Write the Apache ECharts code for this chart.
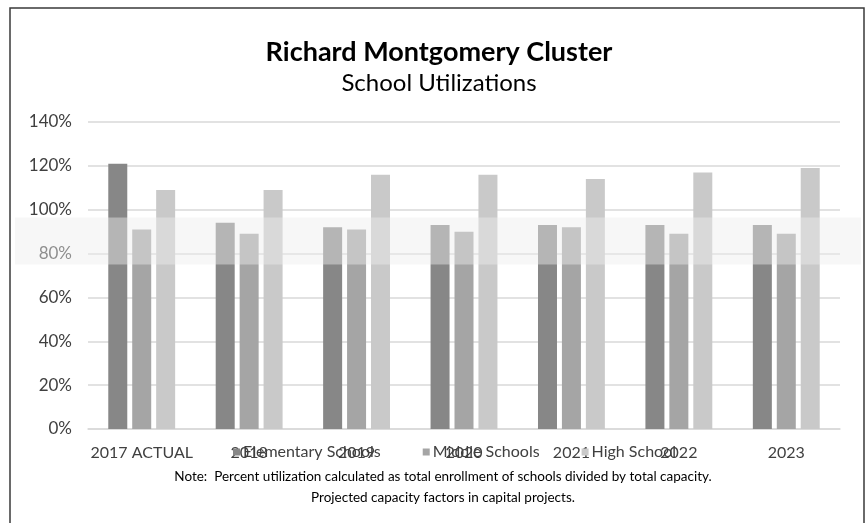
<!DOCTYPE html>
<html>
<head>
<meta charset="utf-8">
<script src="https://cdn.jsdelivr.net/npm/echarts@6/dist/echarts.min.js"></script>
<style>
  html, body { margin: 0; padding: 0; background: #fff; }
  #chart { width: 867px; height: 523px; }
</style>
</head>
<body>
<div id="chart"></div>
<script>
const years = ['2017 ACTUAL', '2018', '2019', '2020', '2021', '2022', '2023']
const elementary = [121, 94, 92, 93, 93, 93, 93]
const middle = [91, 89, 91, 90, 92, 89, 89]
const high = [109, 109, 116, 116, 114, 117, 119]
const yTicks = [0, 140, 20]
const band = [75, 96.5]

const FONT = 'Lato, "Open Sans", sans-serif'
const chart = echarts.init(document.getElementById('chart'))

const barSeries = (name, data, color) => ({
  name,
  type: 'bar',
  data,
  barWidth: 19,
  barGap: '26%',
  itemStyle: { color }
})

const option = {
  animation: false,
  textStyle: { fontFamily: FONT },
  title: {
    text: 'Richard Montgomery Cluster',
    subtext: 'School Utilizations',
    left: 434,
    textAlign: 'center',
    top: 34,
    itemGap: 5,
    textStyle: { fontFamily: FONT, fontSize: 27, fontWeight: 'bold', color: '#000' },
    subtextStyle: { fontFamily: FONT, fontSize: 24, color: '#000' }
  },
  legend: {
    left: 228,
    top: 439,
    icon: 'rect',
    itemWidth: 7,
    itemHeight: 7,
    itemGap: 42,
    textStyle: { fontFamily: FONT, fontSize: 16, color: '#404040', padding: [0, 0, 0, -2] }
  },
  grid: { left: 88, right: 27, top: 122, bottom: 94 },
  xAxis: {
    type: 'category',
    data: years,
    axisTick: { show: false },
    axisLine: { lineStyle: { color: '#d9d9d9', width: 1.5 } },
    axisLabel: { fontFamily: FONT, fontSize: 16, color: '#404040', margin: 16, interval: 0 }
  },
  yAxis: {
    type: 'value',
    min: yTicks[0],
    max: yTicks[1],
    interval: yTicks[2],
    axisLine: { show: false },
    axisTick: { show: false },
    splitLine: { lineStyle: { color: '#d9d9d9', width: 1.5 } },
    axisLabel: { fontFamily: FONT, fontSize: 17, color: '#404040', margin: 16, formatter: '{value}%' }
  },
  series: [
    barSeries('Elementary Schools', elementary, '#878787'),
    barSeries('Middle Schools', middle, '#a5a5a5'),
    barSeries('High School', high, '#c9c9c9')
  ],
  graphic: [
    {
      type: 'rect',
      id: 'frame',
      shape: { x: 10, y: 8, width: 854, height: 530 },
      style: { fill: 'none', stroke: '#3a3a3a', lineWidth: 1.5 },
      silent: true
    },
    {
      type: 'text',
      id: 'note1',
      x: 443,
      y: 477,
      style: {
        text: 'Note:  Percent utilization calculated as total enrollment of schools divided by total capacity.',
        font: '13.5px ' + FONT,
        fill: '#000',
        align: 'center',
        verticalAlign: 'middle'
      }
    },
    {
      type: 'text',
      id: 'note2',
      x: 443,
      y: 498,
      style: {
        text: 'Projected capacity factors in capital projects.',
        font: '13.5px ' + FONT,
        fill: '#000',
        align: 'center',
        verticalAlign: 'middle'
      }
    }
  ]
}

chart.setOption(option)

// translucent band laid over the plot and the axis labels
const yTop = chart.convertToPixel({ gridIndex: 0 }, [0, band[1]])[1]
const yBottom = chart.convertToPixel({ gridIndex: 0 }, [0, band[0]])[1]
chart.setOption({
  graphic: [{
    type: 'rect',
    id: 'band',
    z: 100,
    silent: true,
    shape: { x: 15, y: yTop, width: 846, height: yBottom - yTop },
    style: { fill: 'rgba(237,237,237,0.45)' }
  }]
})
</script>
</body>
</html>
